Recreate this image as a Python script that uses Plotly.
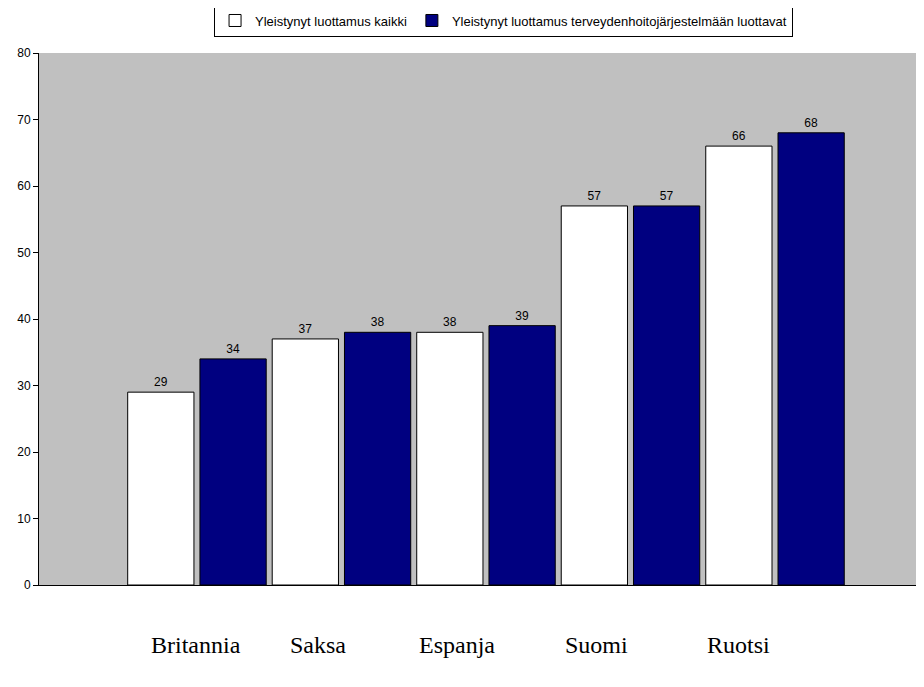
import plotly.graph_objects as go

categories = ["Britannia", "Saksa", "Espanja", "Suomi", "Ruotsi"]
kaikki = [29, 37, 38, 57, 66]
terveys = [34, 38, 39, 57, 68]
series_names = ["Yleistynyt luottamus kaikki",
                "Yleistynyt luottamus terveydenhoitojärjestelmään luottavat"]
label_shifts = [-1, -23, -29, -34, -37]

fig = go.Figure()
fig.add_trace(go.Bar(x=categories, y=kaikki, name=series_names[0],
                     marker=dict(color="#FFFFFF", line=dict(color="#000000", width=1)),
                     text=kaikki, textposition="outside",
                     textfont=dict(family="Liberation Sans", size=12, color="#000000"),
                     cliponaxis=False))
fig.add_trace(go.Bar(x=categories, y=terveys, name=series_names[1],
                     marker=dict(color="#000080", line=dict(color="#000000", width=1)),
                     text=terveys, textposition="outside",
                     textfont=dict(family="Liberation Sans", size=12, color="#000000"),
                     cliponaxis=False))

for c, s in zip(categories, label_shifts):
    fig.add_annotation(x=c, y=0, xref="x", yref="paper", yshift=-60, xshift=s,
                       text=c, showarrow=False, yanchor="middle",
                       font=dict(family="Liberation Serif", size=24, color="#000000"))

fig.update_layout(
    width=916, height=660,
    margin=dict(l=31, r=0, t=45, b=83),
    paper_bgcolor="#FFFFFF", plot_bgcolor="#C0C0C0",
    barmode="group", bargap=0.0, bargroupgap=0.083,
    font=dict(family="Liberation Sans", size=12, color="#000000"),
    showlegend=True,
    legend=dict(orientation="h", xref="container", yref="container",
                x=0.541, xanchor="center", y=0.981, yanchor="middle",
                bordercolor="#000000", borderwidth=1, bgcolor="#FFFFFF",
                font=dict(family="Liberation Sans", size=13), traceorder="normal",
                itemwidth=30),
    xaxis=dict(type="category", range=[-1.093, 5.031], showticklabels=False,
               ticks="", showline=True, linecolor="#000000", linewidth=1,
               showgrid=False, zeroline=False),
    yaxis=dict(range=[0, 80], dtick=10, ticks="outside", ticklen=5, tickcolor="#000000",
               showline=True, linecolor="#000000", linewidth=1, showgrid=False,
               zeroline=False, tickfont=dict(family="Liberation Sans", size=12)),
)

fig.write_html("out.html")
